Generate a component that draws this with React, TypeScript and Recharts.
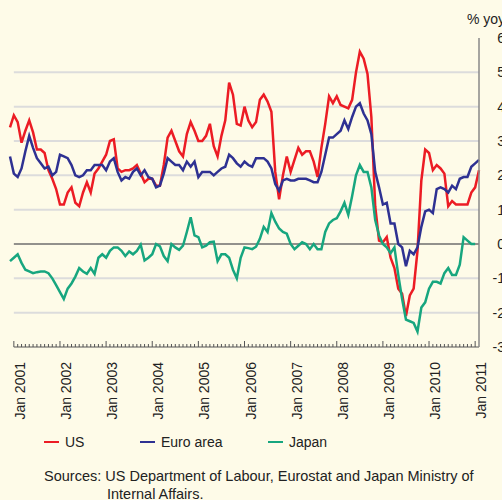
import React from "react";
import { LineChart, Line, XAxis, YAxis, ReferenceLine } from "recharts";

// month index: 0 = Jan 2001, series start Dec 2000 (-1)
const FIRST_MONTH = -1;

const US = [
  3.4,
  3.75, 3.55, 2.95, 3.3, 3.6, 3.25, 2.75, 2.75, 2.65, 2.15, 1.9, 1.6,
  1.15, 1.15, 1.5, 1.65, 1.2, 1.1, 1.5, 1.8, 1.5, 2.05, 2.2, 2.4,
  2.6, 3.0, 3.05, 2.2, 2.1, 2.15, 2.15, 2.2, 2.3, 2.05, 1.8, 1.9,
  1.9, 1.7, 1.7, 2.3, 3.1, 3.3, 3.0, 2.7, 2.55, 3.2, 3.55, 3.3,
  3.0, 3.0, 3.15, 3.5, 2.85, 2.55, 3.15, 3.6, 4.7, 4.35, 3.5, 3.45,
  4.0, 3.6, 3.4, 3.55, 4.2, 4.35, 4.15, 3.85, 2.1, 1.3, 2.0, 2.55,
  2.1, 2.45, 2.8, 2.6, 2.7, 2.7, 2.4, 1.95, 2.8, 3.5, 4.3, 4.1,
  4.3, 4.05, 4.0, 3.95, 4.2, 5.0, 5.6, 5.4, 4.95, 3.7, 1.1, 0.1,
  0.05, 0.2, -0.4, -0.7, -1.3, -1.45, -2.1, -1.5, -1.3, -0.2, 1.85, 2.75,
  2.65, 2.15, 2.3, 2.2, 2.05, 1.1, 1.25, 1.15, 1.15, 1.15, 1.15, 1.5,
  1.65, 2.15,
];

const EURO = [
  2.55,
  2.05, 1.95, 2.2, 2.7, 3.15, 2.8, 2.5, 2.35, 2.2, 2.25, 2.0, 2.1,
  2.6, 2.55, 2.5, 2.3, 2.0, 1.95, 2.0, 2.15, 2.15, 2.3, 2.3, 2.3,
  2.15, 2.4, 2.5, 2.1, 1.85, 1.95, 1.9, 2.1, 2.2, 2.0, 2.15, 1.95,
  1.9, 1.65, 1.7, 2.05, 2.5, 2.4, 2.3, 2.3, 2.15, 2.4, 2.25, 2.4,
  1.95, 2.1, 2.1, 2.1, 2.0, 2.1, 2.2, 2.25, 2.6, 2.5, 2.35, 2.25,
  2.4, 2.3, 2.25, 2.5, 2.5, 2.5, 2.4, 2.2, 1.75, 1.55, 1.85, 1.9,
  1.85, 1.85, 1.9, 1.9, 1.9, 1.85, 1.8, 1.8, 2.1, 2.6, 3.1, 3.1,
  3.2, 3.3, 3.6, 3.35, 3.7, 4.0, 4.1, 3.8, 3.6, 3.2, 2.1, 1.65,
  1.15, 1.2, 0.6, 0.6, 0.0, -0.1, -0.65, -0.2, -0.3, -0.1, 0.5, 0.95,
  1.0, 0.9, 1.6, 1.65, 1.6, 1.5, 1.7, 1.6, 1.9, 1.95, 1.95, 2.25,
  2.35, 2.45,
];

const JAPAN = [
  -0.5,
  -0.4, -0.3, -0.55, -0.75, -0.8, -0.85, -0.82, -0.8, -0.8, -0.85, -1.0, -1.2,
  -1.4, -1.6, -1.3, -1.15, -0.95, -0.7, -0.8, -0.87, -0.7, -0.87, -0.4, -0.3,
  -0.4, -0.2, -0.1, -0.1, -0.2, -0.35, -0.22, -0.3, -0.2, -0.02, -0.48, -0.4,
  -0.3, 0.0, -0.07, -0.35, -0.5, 0.0, -0.1, -0.17, -0.05, 0.35, 0.78, 0.25,
  0.2, -0.1, -0.05, 0.05, 0.07, -0.5, -0.3, -0.3, -0.4, -0.75, -1.0, -0.4,
  -0.1, -0.12, -0.15, -0.08, 0.15, 0.5, 0.35, 0.9, 0.65, 0.45, 0.35, 0.3,
  0.0, -0.15, -0.05, 0.05, 0.0, -0.15, 0.0, -0.15, -0.15, 0.35, 0.6, 0.7,
  0.75, 0.95, 1.2, 0.85, 1.4, 2.0, 2.3, 2.1, 2.1, 1.65, 0.7, 0.25,
  0.0, -0.1, -0.27, -0.1, -0.9, -1.6, -2.2, -2.25, -2.3, -2.55, -1.85, -1.7,
  -1.3, -1.1, -1.1, -1.15, -0.85, -0.7, -0.9, -0.9, -0.6, 0.2, 0.1, 0.0,
  0.0,
];

const YEAR_LABELS = [
  "Jan 2001", "Jan 2002", "Jan 2003", "Jan 2004", "Jan 2005", "Jan 2006",
  "Jan 2007", "Jan 2008", "Jan 2009", "Jan 2010", "Jan 2011",
];
const Y_TICKS = [-3, -2, -1, 0, 1, 2, 3, 4, 5, 6];
const GRID_VALUES = [5, 4, 3, 2, 1, -1, -2];

const SERIES = [
  { key: "us", name: "US", color: "#ec1c24" },
  { key: "euro", name: "Euro area", color: "#2e3192" },
  { key: "japan", name: "Japan", color: "#17a67f" },
];

const data = US.map((v, i) => ({
  m: i + FIRST_MONTH,
  us: v,
  euro: EURO[i],
  japan: i < JAPAN.length ? JAPAN[i] : null,
}));

const monthTicks = Array.from({ length: 121 }, (_, i) => i);

const FONT = "'Liberation Sans', Arial, Helvetica, sans-serif";
const BG = "#fefbe8";

function MonthTick(props: any) {
  const { x, y, payload } = props;
  const m = payload.value;
  const major = m % 12 === 0;
  return (
    <g>
      <line x1={x} x2={x} y1={y} y2={y - (major ? 6 : 3)} stroke="#555" strokeWidth={1} />
      {major && (
        <text
          transform={`translate(${x + 11},${y + 15}) rotate(-90)`}
          textAnchor="end"
          fontSize={14}
          fontFamily={FONT}
          fill="#222"
        >
          {YEAR_LABELS[m / 12]}
        </text>
      )}
    </g>
  );
}

function ValueTick(props: any) {
  const { y, payload } = props;
  return (
    <text x={505} y={y} dy={5} textAnchor="end" fontSize={14} fontFamily={FONT} fill="#222">
      {payload.value}
    </text>
  );
}

export default function App() {
  return (
    <div
      style={{
        position: "fixed",
        left: 0,
        top: 0,
        width: 502,
        height: 500,
        background: BG,
        overflow: "hidden",
        fontFamily: FONT,
        color: "#222",
      }}
    >
      <div style={{ position: "absolute", left: 467, top: 11, fontSize: 14, whiteSpace: "nowrap" }}>
        % yoy
      </div>
      <LineChart width={502} height={430} data={data} margin={{ top: 38, right: 0, left: 10, bottom: 0 }}>
        {GRID_VALUES.map((v) => (
          <ReferenceLine
            key={v}
            segment={[{ x: 0, y: v }, { x: 121, y: v }]}
            stroke="#dcdcdc"
            strokeWidth={2}
          />
        ))}
        <ReferenceLine segment={[{ x: 0, y: 0 }, { x: 121, y: 0 }]} stroke="#6e6e6e" strokeWidth={1.5} />
        <ReferenceLine segment={[{ x: 0, y: -3 }, { x: 121, y: -3 }]} stroke="#555" strokeWidth={1.2} />
        <XAxis
          dataKey="m"
          type="number"
          domain={[-1, 121]}
          ticks={monthTicks}
          interval={0}
          axisLine={false}
          tickLine={false}
          tickSize={0}
          tickMargin={0}
          height={83}
          tick={<MonthTick />}
        />
        <YAxis
          orientation="right"
          domain={[-3, 6]}
          ticks={Y_TICKS}
          width={23}
          axisLine={{ stroke: "#888", strokeWidth: 1.5 }}
          tickLine={false}
          tick={<ValueTick />}
        />
        {SERIES.map((s) => (
          <Line
            key={s.key}
            dataKey={s.key}
            name={s.name}
            stroke={s.color}
            strokeWidth={2.5}
            dot={false}
            type="linear"
            isAnimationActive={false}
          />
        ))}
      </LineChart>
      {SERIES.map((s, i) => (
        <div
          key={s.key}
          style={{
            position: "absolute",
            left: [44, 140, 268][i],
            top: 434,
            display: "flex",
            alignItems: "center",
            fontSize: 14,
            whiteSpace: "nowrap",
          }}
        >
          <span style={{ display: "inline-block", width: 15, height: 2.5, background: s.color, marginRight: 6 }} />
          {s.name}
        </div>
      ))}
      <div style={{ position: "absolute", left: 44, top: 467, fontSize: 14.5, lineHeight: "18px", whiteSpace: "nowrap" }}>
        Sources: US Department of Labour, Eurostat and Japan Ministry of
        <br />
        <span style={{ paddingLeft: 63 }}>Internal Affairs.</span>
      </div>
    </div>
  );
}
